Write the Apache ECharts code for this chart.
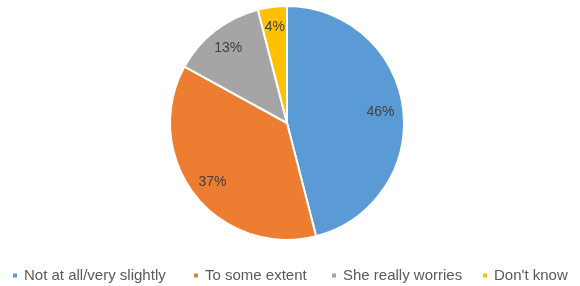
<!DOCTYPE html>
<html>
<head>
<meta charset="utf-8">
<script src="https://cdn.jsdelivr.net/npm/echarts@6/dist/echarts.min.js"></script>
<style>
  html, body { margin: 0; padding: 0; background: #fff; }
  #chart { width: 580px; height: 286px; }
</style>
</head>
<body>
<div id="chart"></div>
<script>
var categories = ['Not at all/very slightly', 'To some extent', 'She really worries', "Don't know"];
var values = [46, 37, 13, 4];
var colors = ['#5B9BD5', '#ED7D31', '#A5A5A5', '#FFC000'];
// how far out each label sits, as a share of the radius (Excel best fit)
var labelRadius = [0.78, 0.78, 0.795, 0.81];
// left edge of each legend entry
var legendLeft = [11, 192, 330, 481];

var myChart = echarts.init(document.getElementById('chart'));
var R = 117;

function buildData() {
    var total = values.reduce(function (a, b) { return a + b; }, 0);
    var acc = 0;
    var data = [];
    for (var i = 0; i < values.length; i++) {
        var mid = (acc + values[i] / 2) / total * Math.PI * 2;
        acc += values[i];
        var shift = (labelRadius[i] - 0.5) * R;
        data.push({
            name: categories[i],
            value: values[i],
            itemStyle: { color: colors[i] },
            label: { offset: [Math.sin(mid) * shift, -Math.cos(mid) * shift + 1] }
        });
    }
    return data;
}

var legends = categories.map(function (name, i) {
    return {
        top: 268,
        left: legendLeft[i],
        padding: 0,
        icon: 'rect',
        itemWidth: 6,
        itemHeight: 6,
        textStyle: { color: '#595959', fontSize: 15, fontFamily: 'Liberation Sans', padding: [0, 0, 0, 1] },
        data: [name]
    };
});

var option = {
    animation: false,
    legend: legends,
    series: [
        {
            type: 'pie',
            center: [287, 123],
            radius: [0, R],
            startAngle: 90,
            clockwise: true,
            itemStyle: { borderColor: '#fff', borderWidth: 2 },
            label: {
                show: true,
                position: 'inside',
                formatter: '{c}%',
                color: '#404040',
                fontSize: 14,
                fontFamily: 'Liberation Sans'
            },
            labelLine: { show: false },
            data: buildData()
        }
    ]
};
myChart.setOption(option);
</script>
</body>
</html>
